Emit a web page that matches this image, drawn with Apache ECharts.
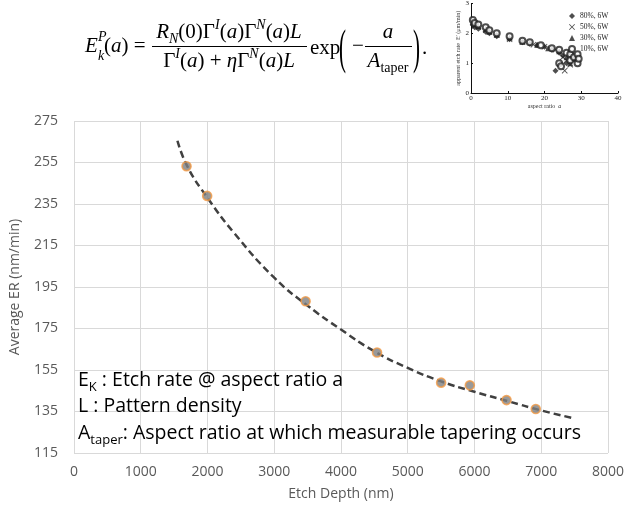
<!DOCTYPE html>
<html><head><meta charset="utf-8">
<script src="https://cdn.jsdelivr.net/npm/echarts@6/dist/echarts.min.js"></script>
<style>html,body{margin:0;padding:0;background:#fff}#c{width:627px;height:510px}</style>
</head><body><div id="c"></div>
<script>
// Main chart data
const etchDepth = [1686, 1995, 3470, 4540, 5500, 5930, 6480, 6918];
const avgER = [253.2, 238.9, 188.1, 163.4, 148.9, 147.6, 140.5, 136.2];
// Dashed trend line
const trendDepth = [1550, 1700, 2000, 2400, 3000, 3500, 4000, 4500, 5000, 5500, 6000, 6500, 7000, 7450];
const trendER = [265.5, 253, 238, 221, 199.5, 186, 174.5, 164, 156, 149.5, 144.5, 140, 135.5, 132];
const xTickLabels = ['0','1000','2000','3000','4000','5000','6000','7000','8000'];
const yTickLabels = ['115','135','155','175','195','215','235','255','275'];

// Inset chart data (aspect ratio vs apparent etch rate)
const insetNames = ['80%, 6W', '50%, 6W', '30%, 6W', '10%, 6W'];
const inset80x = [0.5, 1, 2, 4, 5, 7, 10.5, 14, 16, 18, 20, 22, 23, 24, 25, 26];
const inset80y = [2.3, 2.2, 2.15, 2.05, 2.0, 1.9, 1.8, 1.7, 1.65, 1.6, 1.55, 1.45, 0.75, 1.35, 1.25, 1.0];
const inset50x = [0.5, 1, 2, 4, 5, 7, 10.5, 14, 17, 20, 23, 25, 25.5, 26, 27];
const inset50y = [2.35, 2.25, 2.2, 2.1, 2.05, 1.95, 1.8, 1.72, 1.62, 1.55, 1.45, 1.2, 0.75, 1.1, 0.95];
const inset30x = [0.5, 1, 2, 4, 5, 7, 10.5, 14, 18, 21, 24, 26, 27, 28];
const inset30y = [2.4, 2.3, 2.25, 2.15, 2.05, 1.95, 1.85, 1.72, 1.62, 1.5, 1.4, 1.2, 1.0, 1.15];
const inset10x = [0.5, 1, 2, 4, 5, 7, 10.5, 14, 16, 19, 22, 24, 24, 24.5, 26, 27, 27, 28, 29, 29, 29.3];
const inset10y = [2.45, 2.35, 2.3, 2.2, 2.1, 2.0, 1.9, 1.75, 1.7, 1.6, 1.5, 1.45, 1.0, 0.9, 1.35, 1.3, 1.1, 1.2, 1.3, 1.0, 1.15];

const zip = (a, b) => a.map((v, i) => [v, b[i]]);

const SERIF = '"Liberation Serif","DejaVu Serif",serif';
const SANS = '"Open Sans","Noto Sans",sans-serif';
const eqRich = {
  i: {fontFamily: SERIF, fontStyle: 'italic', fontSize: 21, lineHeight: 28, color: '#000'},
  n: {fontFamily: SERIF, fontSize: 21, lineHeight: 28, color: '#000'},
  sup: {fontFamily: SERIF, fontStyle: 'italic', fontSize: 14, lineHeight: 15, verticalAlign: 'top', color: '#000'},
  sub: {fontFamily: SERIF, fontStyle: 'italic', fontSize: 14, lineHeight: 15, verticalAlign: 'bottom', color: '#000'}
};
const noteRich = {
  n: {fontFamily: SANS, fontSize: 19.5, lineHeight: 27, color: '#111'},
  sub: {fontFamily: SANS, fontSize: 13, lineHeight: 14, verticalAlign: 'bottom', color: '#111'}
};
function txt(x, y, text, extra, elExtra) {
  return Object.assign({type: 'text', x: x, y: y, z: 100,
    style: Object.assign({text: text, fill: '#000', align: 'left', verticalAlign: 'middle'}, extra || {})}, elExtra || {});
}
function hline(x1, x2, y) {
  return {type: 'line', z: 100, shape: {x1: x1, y1: y, x2: x2, y2: y}, style: {stroke: '#000', lineWidth: 1.2}};
}

const chart = echarts.init(document.getElementById('c'));
chart.setOption({
  animation: false,
  backgroundColor: '#fff',
  grid: [
    {left: 73, right: 19, top: 121, bottom: 57},
    {left: 471, top: 3, width: 147, height: 90}
  ],
  legend: {
    data: insetNames, orient: 'vertical', left: 568, top: 12, itemWidth: 6, itemHeight: 6, itemGap: 3,
    textStyle: {fontSize: 7.5, fontFamily: SERIF, color: '#222'}, padding: 0
  },
  xAxis: [
    {type: 'value', gridIndex: 0, min: 0, max: 8000, interval: 1000,
      name: 'Etch Depth (nm)', nameLocation: 'middle', nameGap: 34,
      nameTextStyle: {fontFamily: SANS, fontSize: 14, color: '#595959'},
      axisLine: {show: false}, axisTick: {show: false},
      axisLabel: {fontFamily: SANS, fontSize: 14, color: '#595959', margin: 12,
        formatter: (v) => xTickLabels[Math.round(v / 1000)]},
      splitLine: {show: true, lineStyle: {color: '#d9d9d9', width: 1}}},
    {type: 'value', gridIndex: 1, min: 0, max: 40, interval: 10,
      name: '{n|aspect ratio  }{i|a}', nameLocation: 'middle', nameGap: 10,
      nameTextStyle: {rich: {n: {fontSize: 6, fontFamily: SERIF, color: '#333'}, i: {fontSize: 6, fontFamily: SERIF, fontStyle: 'italic', color: '#333'}}},
      axisLine: {show: true, lineStyle: {color: '#111', width: 1}},
      axisTick: {show: true, inside: true, length: 2, lineStyle: {color: '#111'}},
      axisLabel: {fontSize: 7, fontFamily: SERIF, color: '#222', margin: 2},
      splitLine: {show: false}}
  ],
  yAxis: [
    {type: 'value', gridIndex: 0, min: 115, max: 275, interval: 20,
      name: 'Average ER (nm/min)', nameLocation: 'middle', nameGap: 52,
      nameTextStyle: {fontFamily: SANS, fontSize: 14, color: '#595959'},
      axisLine: {show: false}, axisTick: {show: false},
      axisLabel: {fontFamily: SANS, fontSize: 14, color: '#595959', margin: 16,
        formatter: (v) => yTickLabels[Math.round((v - 115) / 20)]},
      splitLine: {show: true, lineStyle: {color: '#d9d9d9', width: 1}}},
    {type: 'value', gridIndex: 1, min: 0, max: 3, interval: 1,
      name: "apparent etch rate  E′ (μm/min)", nameLocation: 'middle', nameGap: 8,
      nameTextStyle: {fontSize: 6, fontFamily: SERIF, color: '#333'},
      axisLine: {show: true, lineStyle: {color: '#111', width: 1}},
      axisTick: {show: true, inside: true, length: 2, lineStyle: {color: '#111'}},
      axisLabel: {fontSize: 7, fontFamily: SERIF, color: '#222', margin: 2},
      splitLine: {show: false}}
  ],
  series: [
    {type: 'line', name: 'trend', xAxisIndex: 0, yAxisIndex: 0, data: zip(trendDepth, trendER),
      smooth: true, showSymbol: false, silent: true, z: 2,
      lineStyle: {color: '#404040', width: 2.5, type: [7, 4]}},
    {type: 'scatter', name: 'data', xAxisIndex: 0, yAxisIndex: 0, data: zip(etchDepth, avgER),
      symbolSize: 9, z: 3,
      itemStyle: {color: '#7f7f7f', borderColor: '#f39a45', borderWidth: 1.6}},
    {type: 'scatter', name: insetNames[0], xAxisIndex: 1, yAxisIndex: 1, data: zip(inset80x, inset80y),
      symbol: 'diamond', symbolSize: 6, itemStyle: {color: '#222'}},
    {type: 'scatter', name: insetNames[1], xAxisIndex: 1, yAxisIndex: 1, data: zip(inset50x, inset50y),
      symbol: 'path://M0,1L1,0L5,4L9,0L10,1L6,5L10,9L9,10L5,6L1,10L0,9L4,5Z', symbolSize: 6, itemStyle: {color: '#222'}},
    {type: 'scatter', name: insetNames[2], xAxisIndex: 1, yAxisIndex: 1, data: zip(inset30x, inset30y),
      symbol: 'triangle', symbolSize: 6, itemStyle: {color: '#222'}},
    {type: 'scatter', name: insetNames[3], xAxisIndex: 1, yAxisIndex: 1, data: zip(inset10x, inset10y),
      symbol: 'emptyCircle', symbolSize: 6, itemStyle: {color: '#222', borderWidth: 1}}
  ],
  graphic: [
    // equation
    txt(85, 46, 'E', {fontFamily: SERIF, fontStyle: 'italic', fontSize: 21}),
    txt(98, 37, 'P', {fontFamily: SERIF, fontStyle: 'italic', fontSize: 14}),
    txt(98, 56, 'k', {fontFamily: SERIF, fontStyle: 'italic', fontSize: 14}),
    txt(104, 46, '{n|(}{i|a}{n|) =}', {rich: eqRich}),
    txt(229, 32, '{i|R}{sub|N}{n|(0)Γ}{sup|I}{n|(}{i|a}{n|)Γ}{sup|N}{n|(}{i|a}{n|)}{i|L}', {rich: eqRich, align: 'center'}),
    hline(152, 307, 46.5),
    txt(229, 61, '{n|Γ}{sup|I}{n|(}{i|a}{n|) + }{i|η}{n|Γ}{sup|N}{n|(}{i|a}{n|)}{i|L}', {rich: eqRich, align: 'center'}),
    txt(310, 48, 'exp', {fontFamily: SERIF, fontSize: 21}),
    txt(339, 50, '(', {fontFamily: SERIF, fontSize: 21}, {scaleY: 2.3}),
    txt(352, 46, '−', {fontFamily: SERIF, fontSize: 21}),
    hline(365, 412, 46.5),
    txt(388, 32, 'a', {fontFamily: SERIF, fontStyle: 'italic', fontSize: 21, align: 'center'}),
    txt(388, 61, '{i|A}{sub|taper}', {rich: {i: eqRich.i, sub: {fontFamily: SERIF, fontSize: 14, lineHeight: 15, verticalAlign: 'bottom', color: '#000'}}, align: 'center'}),
    txt(413, 50, ')', {fontFamily: SERIF, fontSize: 21}, {scaleY: 2.3}),
    txt(422, 48, '.', {fontFamily: SERIF, fontSize: 21}),
    // notes
    txt(78, 380, '{n|E}{sub|K}{n| : Etch rate @ aspect ratio a}', {rich: noteRich}),
    txt(78, 406, '{n|L : Pattern density}', {rich: noteRich}),
    txt(78, 433, '{n|A}{sub|taper}{n|: Aspect ratio at which measurable tapering occurs}', {rich: noteRich})
  ]
});
</script></body></html>
